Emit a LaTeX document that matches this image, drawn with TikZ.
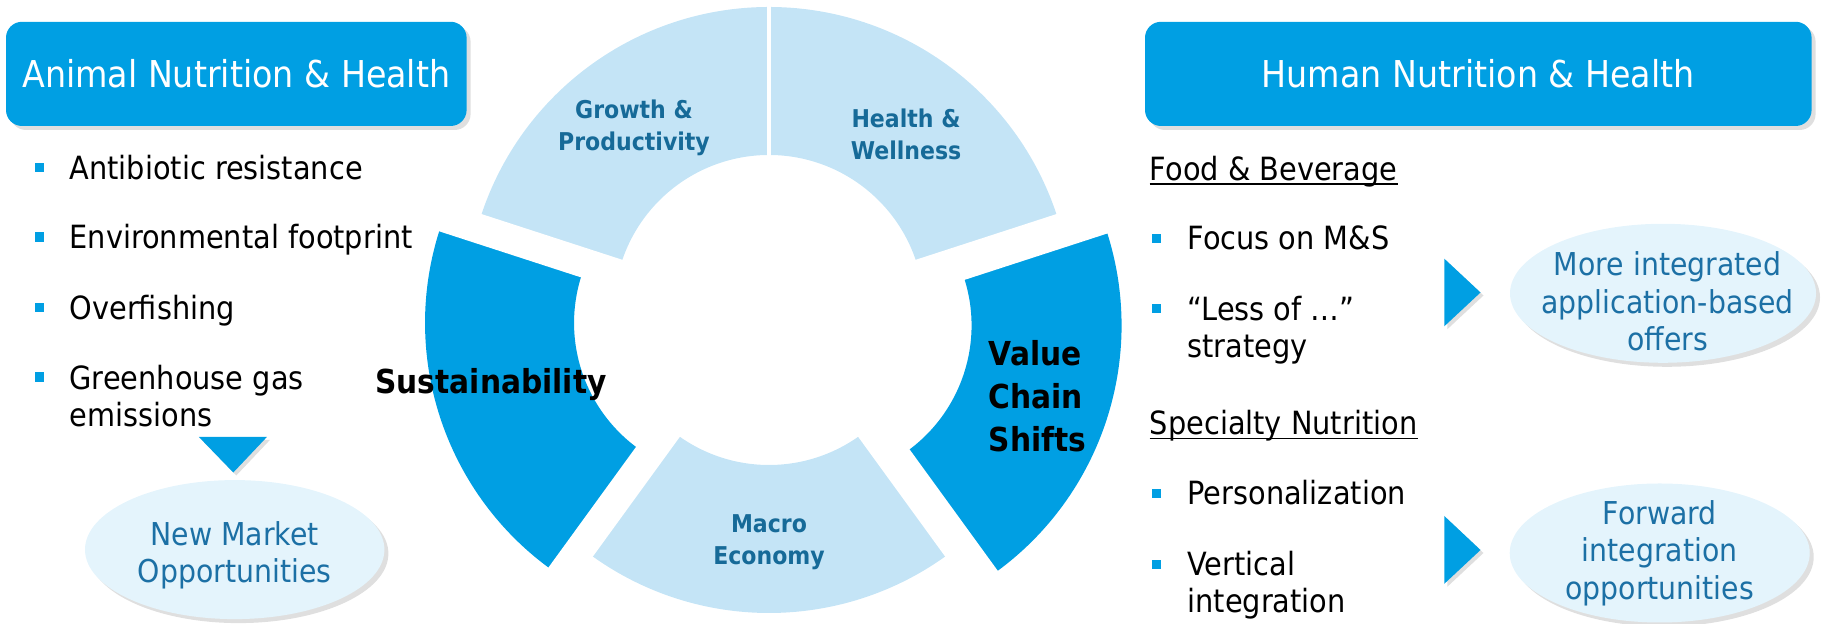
\documentclass[tikz,border=0pt]{standalone}
\usepackage{fontspec}
\setmainfont{DejaVu Sans}[FakeStretch=0.9]
\usetikzlibrary{calc,shapes.geometric,shadows}
\definecolor{dsmblue}{RGB}{0,159,227}
\definecolor{seglight}{RGB}{196,228,246}
\definecolor{segtext}{RGB}{22,106,152}
\definecolor{ovalfill}{RGB}{228,244,252}
\definecolor{ovalblue}{RGB}{28,112,165}
\def\lightseg{\fill[color=seglight]}
\def\darkseg{\fill[color=dsmblue]}
\def\gapline{\draw[color=white, line width=2.4pt]}
\def\bulletsq{\fill[color=dsmblue]}
\def\arrowtri{\fill[color=dsmblue, drop shadow={shadow xshift=1.5pt,shadow yshift=-1.5pt,opacity=0.25}]}

\begin{document}
\begin{tikzpicture}[x=0.5pt,y=0.5pt,
  header/.style={rectangle,rounded corners=8pt,fill=dsmblue,text=white,minimum width=#1,minimum height=52.1pt,
    font=\fontsize{18.5}{22}\selectfont,drop shadow={shadow xshift=2pt,shadow yshift=-2pt,opacity=0.25}},
  item/.style={anchor=base west,inner sep=0pt,align=left,font=\fontsize{16}{18.75}\selectfont},
  seglabel/.style={text=segtext,inner sep=0pt,align=center,font=\bfseries\fontsize{12.25}{15.9}\selectfont},
  biglabel/.style={inner sep=0pt,font=\bfseries\fontsize{16.5}{21.5}\selectfont},
  oval/.style={ellipse,fill=ovalfill,inner sep=0pt,minimum width=#1,minimum height=69.5pt,
    drop shadow={shadow xshift=2pt,shadow yshift=-2pt,opacity=0.25}},
  ovaltext/.style={text=ovalblue,inner sep=0pt,align=center,font=\fontsize{15.75}{18.75}\selectfont}]
\useasboundingbox (0,0) rectangle (1831,624);

\node[header=230.3pt] (anh) at (236.3,550.1) {Animal Nutrition \& Health};
\node[header=333.3pt] (hnh) at (1478.3,550.1) {Human Nutrition \& Health};

\foreach \y in {456.7,386.8,316.4,247.2}
  \bulletsq (34.8,\y-4.75) rectangle ++(9.5,9.5);
\node[item] (abr) at (69.2,444) {Antibiotic resistance};
\node[item] (env) at (69.2,375.7) {Environmental footprint};
\node[item] (ovf) at (69.2,304.5) {Overfishing};
\node[item] (ghg) at (69.2,197) {Greenhouse gas\\emissions};
\arrowtri (198.9,187) -- (266.9,187) -- (233.3,151.5) -- cycle;
\node[oval=149.7pt, label={[ovaltext,yshift=-2.75pt]center:{New Market\\Opportunities}}] (nmo) at (234.7,74.4) {};

\coordinate (c) at (769,314);
\coordinate (cl) at ($(c)+(198:42)$);
\coordinate (cr) at ($(c)+(-18:50)$);
\foreach \a/\b in {90/162,18/90,234/306}
  \lightseg ($(c)+(\a:303)$) arc[start angle=\a,end angle=\b,radius=303] -- ($(c)+(\b:155)$) arc[start angle=\b,end angle=\a,radius=155] -- cycle;
\darkseg ($(cl)+(162:304)$) arc[start angle=162,end angle=234,radius=304] -- ($(cl)+(234:155)$) arc[start angle=234,end angle=162,radius=155] -- cycle;
\darkseg ($(cr)+(-54:305)$) arc[start angle=-54,end angle=18,radius=305] -- ($(cr)+(18:155)$) arc[start angle=18,end angle=-54,radius=155] -- cycle;
\foreach \a in {18,90,162,234,306}
  \gapline (c) -- ++(\a:320);
\foreach \a in {162,234}
  \gapline (cl) -- ++(\a:320);
\foreach \a in {18,306}
  \gapline (cr) -- ++(\a:320);
\node[seglabel] (gp) at (634,495.9) {Growth \&\\Productivity};
\node[seglabel] (hw) at (906,489.7) {Health \&\\Wellness};
\node[seglabel] (me) at (769,81.6) {Macro\\Economy};
\node[biglabel,anchor=base] (sus) at (491,230.6) {Sustainability};
\node[biglabel,anchor=west,align=left] (vcs) at (988.3,227.8) {Value\\Chain\\Shifts};

\node[item] (fb) at (1149.5,443.7) {Food \& Beverage};
\draw[line width=0.8pt] ([yshift=-1.75pt]fb.base west) -- ([yshift=-1.75pt]fb.base east);
\foreach \y in {385.2,315.6,130.6,59.7}
  \bulletsq (1151.7,\y-4.6) rectangle ++(9.2,9.2);
\node[item] (fms) at (1187.1,374) {Focus on M\&S};
\node[item] (lso) at (1187.1,266) {“Less of …”\\strategy};
\node[item] (sn) at (1149.5,189) {Specialty Nutrition};
\draw[line width=0.8pt] ([yshift=-1.75pt]sn.base west) -- ([yshift=-1.75pt]sn.base east);
\node[item] (pers) at (1187.1,119.4) {Personalization};
\node[item] (vint) at (1187.1,11.2) {Vertical\\integration};
\arrowtri (1444.3,365.3) -- (1480.5,331.5) -- (1444.3,297.7) -- cycle;
\arrowtri (1444.3,108) -- (1480.5,74) -- (1444.3,40.2) -- cycle;
\node[oval=153pt, label={[ovaltext,xshift=2.3pt,yshift=-4pt]center:{More integrated\\application-based\\offers}}] (mio) at (1663,330.7) {};
\node[oval=150pt, label={[ovaltext]center:{Forward\\integration\\opportunities}}] (fio) at (1659.7,71) {};
\end{tikzpicture}
\end{document}
